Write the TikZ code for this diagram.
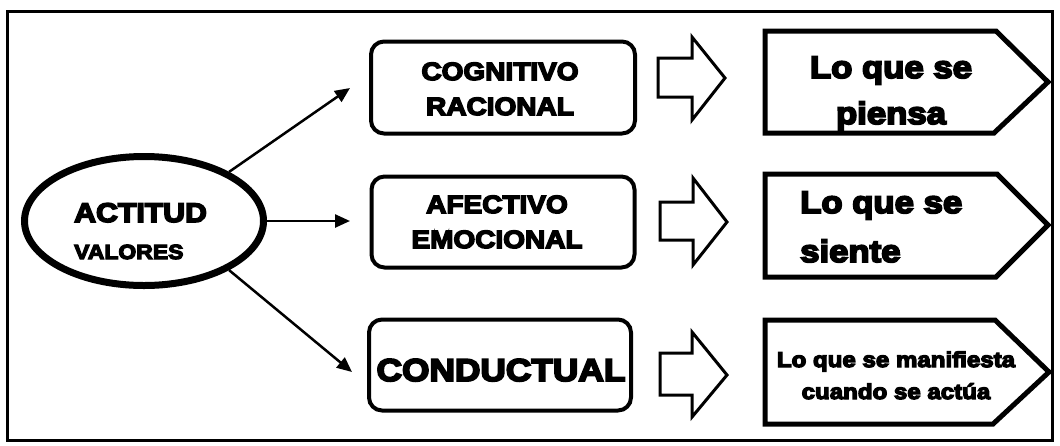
\documentclass[tikz,border=0pt]{standalone}
\usepackage{fontspec}
\newfontfamily\blk{Liberation Sans}[UprightFont={* Bold},UprightFeatures={FakeBold=6},FakeStretch=1.12]
\usetikzlibrary{shapes.geometric,arrows.meta}
\tikzset{
  frame/.style={draw, line width=2.2pt},
  ell/.style={ellipse, draw, line width=7pt, inner sep=0pt, minimum width=239pt, minimum height=129pt},
  rbox/.style={draw, line width=4pt, rounded corners=13pt, inner sep=0pt},
  penta/.style={draw, line width=5pt, line join=miter},
  harrow/.style={draw, line width=3pt, line join=miter},
  conn/.style={line width=2.5pt, -{Triangle[length=15pt,width=13pt]}},
  txt/.style={inner sep=0pt, anchor=base, text=black},
  ltxt/.style={inner sep=0pt, anchor=base west, text=black},
}
\newcommand{\fs}[1]{\blk\fontsize{#1}{#1}\selectfont}
\begin{document}
\begin{tikzpicture}[x=1pt,y=-1pt]
\useasboundingbox (0,0) rectangle (1060,445);
\draw[frame] (7.5,11.5) rectangle (1052.5,440.5);

% ellipse
\node[ell] (act) at (144,221) {};
\node[ltxt, font=\fs{27}] (actt) at (74,222) {ACTITUD};
\node[ltxt, font=\fs{20.5}] (val) at (74,259) {VALORES};

% boxes
\node[rbox, minimum width=264pt, minimum height=92pt] (b1) at (503,87.5) {};
\node[rbox, minimum width=263pt, minimum height=91pt] (b2) at (503,222) {};
\node[rbox, minimum width=262pt, minimum height=91pt] (b3) at (500,365) {};

\node[txt, font=\fs{25}] (b1a) at (500,80) {COGNITIVO};
\node[txt, font=\fs{25}] (b1b) at (500,115) {RACIONAL};
\node[txt, font=\fs{25}] (b2a) at (497,213) {AFECTIVO};
\node[txt, font=\fs{25}] (b2b) at (497,248) {EMOCIONAL};
\node[txt, font=\fs{31.5}] (b3a) at (501,381) {CONDUCTUAL};

% connectors
\coordinate (t1) at (350,88);
\coordinate (t2) at (350,221);
\coordinate (t3) at (352,372);
\draw[conn] (act.30) -- (t1);
\draw[conn] (act.east) -- (t2);
\draw[conn] (act.-30) -- (t3);

% hollow arrows
\draw[harrow] (658,58) -- (692,58) -- (692,37) -- (725,78) -- (692,120) -- (692,97) -- (658,97) -- cycle;
\draw[harrow] (660,202) -- (693,202) -- (693,178) -- (727,222) -- (693,265) -- (693,240) -- (660,240) -- cycle;
\draw[harrow] (660,353) -- (692,353) -- (692,332) -- (727,375) -- (692,417) -- (692,395) -- (660,395) -- cycle;

% pentagons
\draw[penta] (765,31) -- (996,31) -- (1048,82) -- (994,133) -- (765,133) -- cycle;
\draw[penta] (765,174) -- (997,174) -- (1048,225) -- (996,277) -- (765,277) -- cycle;
\draw[penta] (765,320) -- (995,320) -- (1049,372) -- (993,424) -- (765,424) -- cycle;

\node[txt, font=\fs{31}] (p1a) at (891,78) {Lo que se};
\node[txt, font=\fs{31}] (p1b) at (891,124) {piensa};
\node[ltxt, font=\fs{31}] (p2a) at (800,213) {Lo que se};
\node[ltxt, font=\fs{31}] (p2b) at (800,262) {siente};
\node[txt, font=\fs{21.5}] (p3a) at (896,367) {Lo que se manifiesta};
\node[txt, font=\fs{21.5}] (p3b) at (896,399) {cuando se actúa};
\end{tikzpicture}
\end{document}
